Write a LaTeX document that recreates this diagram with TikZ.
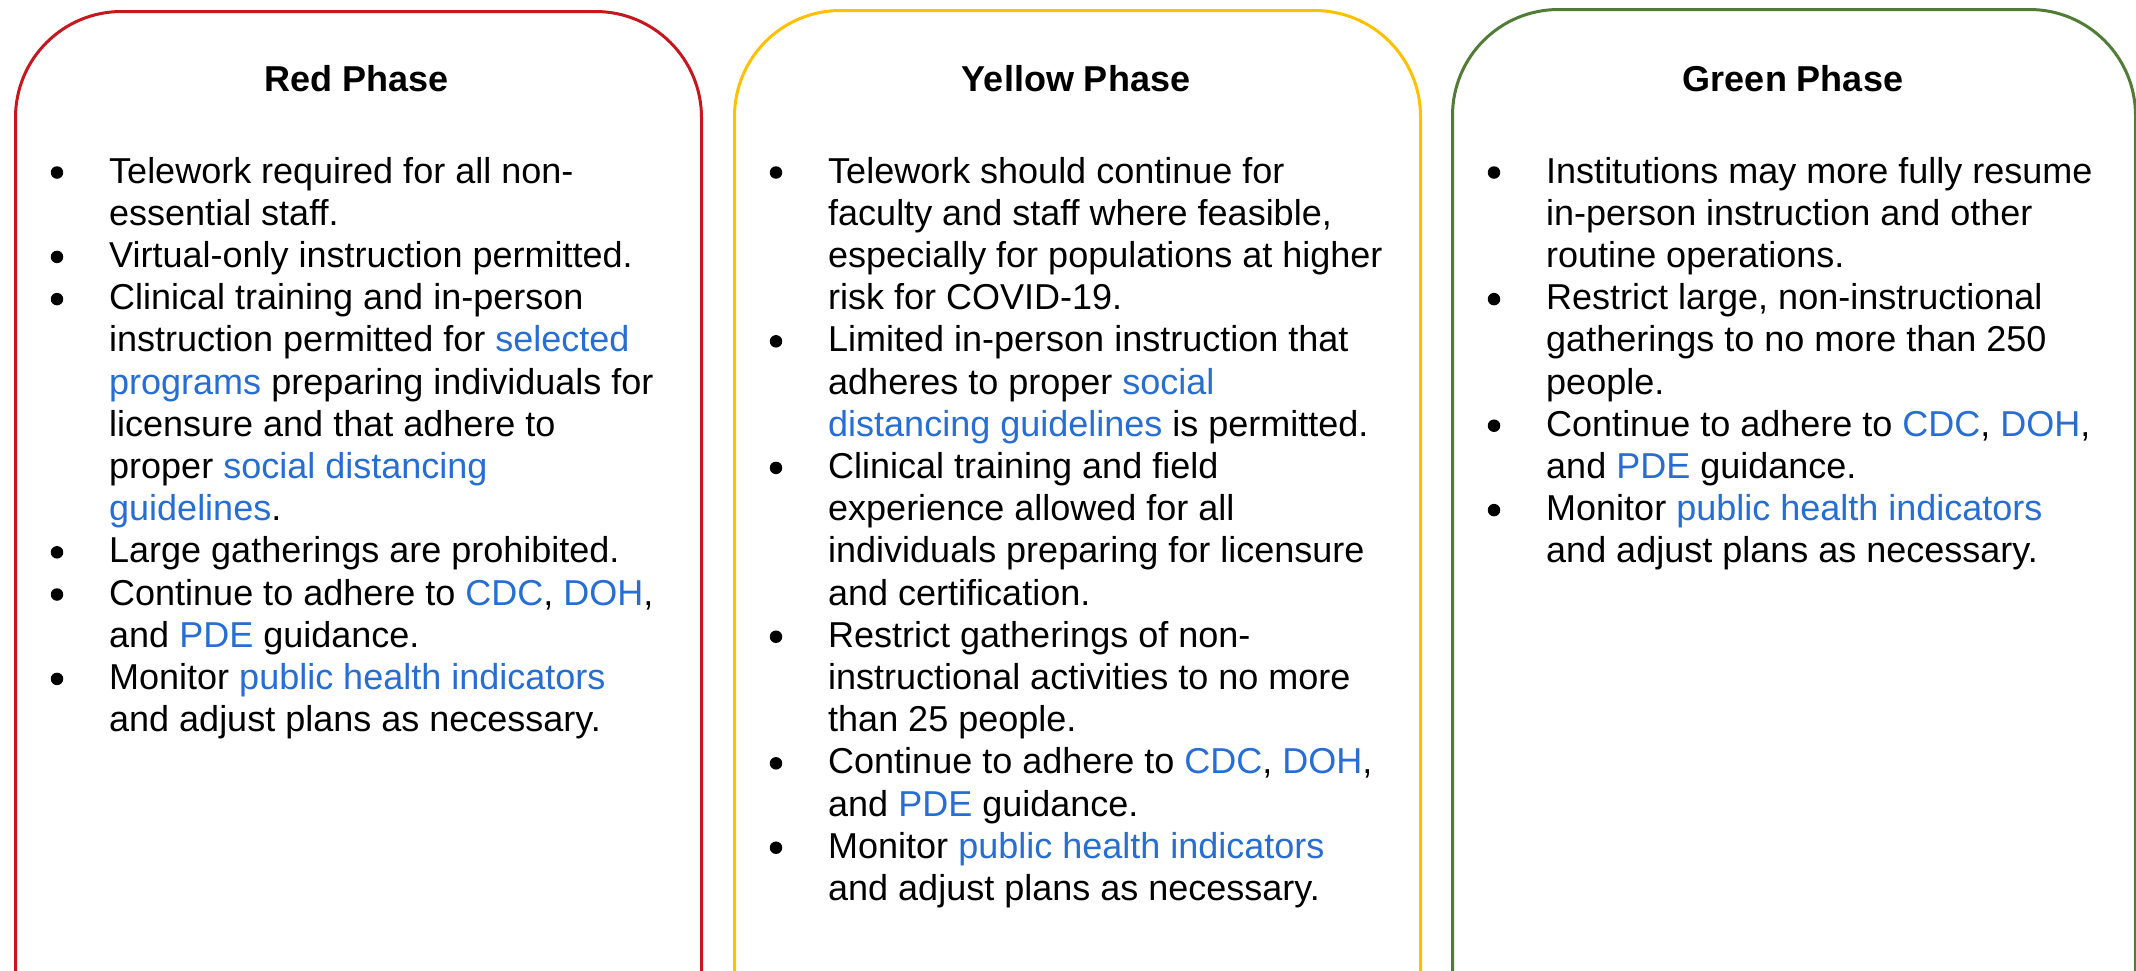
\documentclass[tikz,border=0pt]{standalone}
\usepackage{fontspec}
\setmainfont{Liberation Sans}
\definecolor{phasered}{RGB}{198,22,30}
\definecolor{phaseyellow}{RGB}{255,192,0}
\definecolor{phasegreen}{RGB}{80,124,54}
\definecolor{linkblue}{RGB}{38,110,212}
\newcommand\lk[1]{\textcolor{linkblue}{#1}}
\newcommand\phasecol[4]{%
  \foreach \mytxt [count=\i] in {#4} {
    \node[bodyline] (#1l\i) at ({#2+95},{183+42.2*(\i-1)}) {\mytxt};
  }
  \foreach \b in {#3} {
    \node[bul] (#1b\b) at ({#2+57-14},{183+42.2*(\b-1)-10.5}) {};
  }
}
\tikzset{
  phasebox/.style={draw, line width=3pt, rounded corners=106pt, minimum height=1300pt,
    inner sep=0pt, anchor=north west, fill=none},
  bodyline/.style={anchor=base west, inner sep=0pt, text=black,
    font=\fontsize{36}{42}\selectfont},
  titletext/.style={anchor=base, inner sep=0pt, text=black,
    font=\fontsize{36}{42}\selectfont\bfseries},
  bul/.style={circle, fill=black, minimum size=12.5pt, inner sep=0pt},
}
\begin{document}
\begin{tikzpicture}[x=1pt,y=-1pt]
\useasboundingbox (0,0) rectangle (2136,970);
\clip (0,0) rectangle (2136,970);
\fill[white] (0,0) rectangle (2136,970);
% boxes
\node[phasebox, draw=phasered, minimum width=686pt] (redbox) at (14,10) {};
\node[phasebox, draw=phaseyellow, minimum width=686pt] (yellowbox) at (733,9) {};
\node[phasebox, draw=phasegreen, minimum width=683pt] (greenbox) at (1451,8) {};
% titles
\node[titletext] (redtitle) at (357,91) {Red Phase};
\node[titletext] (yellowtitle) at (1076,91) {Yellow Phase};
\node[titletext] (greentitle) at (1793,91) {Green Phase};
% red column
\phasecol{r}{14}{1,3,4,10,11,13}{
  Telework required for all non-,
  essential staff.,
  Virtual-only instruction permitted.,
  Clinical training and in-person,
  instruction permitted for \lk{selected},
  \lk{programs} preparing individuals for,
  licensure and that adhere to,
  proper \lk{social distancing},
  \lk{guidelines}.,
  Large gatherings are prohibited.,
  {Continue to adhere to \lk{CDC}, \lk{DOH},},
  and \lk{PDE} guidance.,
  Monitor \lk{public health indicators},
  and adjust plans as necessary.}
% yellow column
\phasecol{y}{733}{1,5,8,12,15,17}{
  Telework should continue for,
  {faculty and staff where feasible,},
  especially for populations at higher,
  risk for COVID-19.,
  Limited in-person instruction that,
  adheres to proper \lk{social},
  \lk{distancing guidelines} is permitted.,
  Clinical training and field,
  experience allowed for all,
  individuals preparing for licensure,
  and certification.,
  Restrict gatherings of non-,
  instructional activities to no more,
  than 25 people.,
  {Continue to adhere to \lk{CDC}, \lk{DOH},},
  and \lk{PDE} guidance.,
  Monitor \lk{public health indicators},
  and adjust plans as necessary.}
% green column
\phasecol{g}{1451}{1,4,7,9}{
  Institutions may more fully resume,
  in-person instruction and other,
  routine operations.,
  {Restrict large, non-instructional},
  gatherings to no more than 250,
  people.,
  {Continue to adhere to \lk{CDC}, \lk{DOH},},
  and \lk{PDE} guidance.,
  Monitor \lk{public health indicators},
  and adjust plans as necessary.}
\end{tikzpicture}
\end{document}
